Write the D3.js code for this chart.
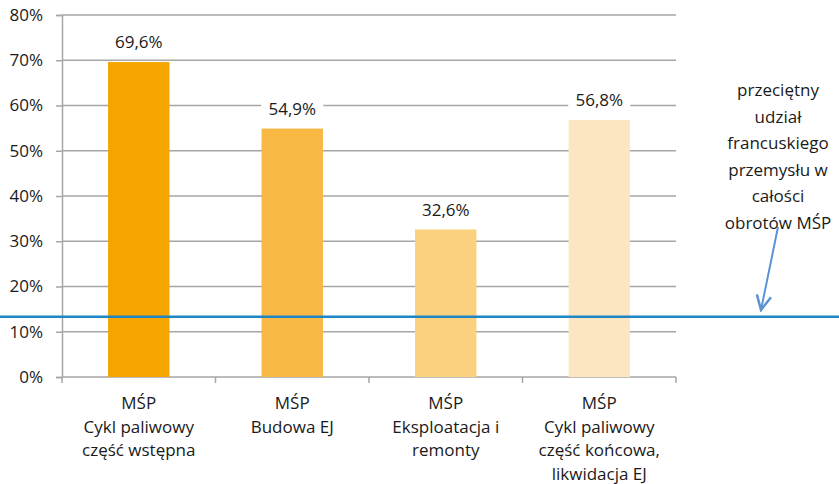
<!DOCTYPE html>
<html>
<head>
<meta charset="utf-8">
<script src="https://cdn.jsdelivr.net/npm/d3@7"></script>
<style>
  body { margin: 0; background: #fff; }
  text { font-family: "Open Sans", sans-serif; fill: #1a1a1a; }
</style>
</head>
<body>
<div class="canvas"></div>
<script>
// chart data
const categories = [
  ['MŚP', 'Cykl paliwowy', 'część wstępna'],
  ['MŚP', 'Budowa EJ'],
  ['MŚP', 'Eksploatacja i', 'remonty'],
  ['MŚP', 'Cykl paliwowy', 'część końcowa,', 'likwidacja EJ']
];
const values = [69.6, 54.9, 32.6, 56.8];
const barColors = ['#F5A500', '#F7B844', '#F9D17F', '#FCE6C1'];
const averageShare = 13.3;
const yTicks = [0, 10, 20, 30, 40, 50, 60, 70, 80];
const noteLines = ['przeciętny', 'udział', 'francuskiego', 'przemysłu w', 'całości', 'obrotów MŚP'];

const width = 839, height = 484;
const margin = { top: 15, right: 163, bottom: 107, left: 62 };
const graphWidth = width - margin.left - margin.right;
const graphHeight = height - margin.top - margin.bottom;
const fontSize = 17;

const svg = d3.select('.canvas').append('svg')
    .attr('width', width)
    .attr('height', height);

const graph = svg.append('g')
    .attr('transform', `translate(${margin.left}, ${margin.top})`);

const x = d3.scaleBand()
    .domain(d3.range(values.length))
    .range([0, graphWidth])
    .paddingInner(0.6)
    .paddingOuter(0.3);

const y = d3.scaleLinear()
    .domain([0, 80])
    .range([graphHeight, 0]);

// gridlines
graph.append('g')
    .selectAll('line')
    .data(yTicks.slice(1))
    .enter()
    .append('line')
    .attr('x1', 0)
    .attr('x2', graphWidth)
    .attr('y1', d => y(d))
    .attr('y2', d => y(d))
    .attr('stroke', '#a6a6a6')
    .attr('stroke-width', 1.5);

// y axis
const yAxis = d3.axisLeft(y).tickValues(yTicks).tickSize(6).tickFormat(d => d + '%');
const yG = graph.append('g').call(yAxis);
yG.select('.domain').attr('stroke', '#a6a6a6').attr('stroke-width', 1.5);
yG.selectAll('.tick line').attr('stroke', '#a6a6a6').attr('stroke-width', 1.5);
yG.selectAll('.tick text')
    .attr('font-size', fontSize)
    .attr('x', -19)
    .attr('font-family', '"Open Sans", sans-serif')
    .attr('fill', '#1a1a1a');

// x axis line + ticks at category borders
const bandEdges = d3.range(values.length + 1).map(i => i * graphWidth / values.length);
graph.append('line')
    .attr('x1', 0).attr('x2', graphWidth)
    .attr('y1', graphHeight).attr('y2', graphHeight)
    .attr('stroke', '#a6a6a6').attr('stroke-width', 1.5);
graph.append('g')
    .selectAll('line')
    .data(bandEdges)
    .enter()
    .append('line')
    .attr('x1', d => d).attr('x2', d => d)
    .attr('y1', graphHeight).attr('y2', graphHeight + 6)
    .attr('stroke', '#a6a6a6').attr('stroke-width', 1.5);

// bars
graph.selectAll('rect.bar')
    .data(values)
    .enter()
    .append('rect')
    .attr('class', 'bar')
    .attr('x', (d, i) => x(i))
    .attr('y', d => y(d))
    .attr('width', x.bandwidth())
    .attr('height', d => graphHeight - y(d))
    .attr('fill', (d, i) => barColors[i]);

// value labels with white box
const labels = graph.selectAll('g.vlabel')
    .data(values)
    .enter()
    .append('g')
    .attr('class', 'vlabel')
    .attr('transform', (d, i) => `translate(${x(i) + x.bandwidth() / 2}, ${y(d) - 20})`);
labels.append('rect')
    .attr('x', -31).attr('y', -12)
    .attr('width', 62).attr('height', 24)
    .attr('fill', '#fff');
labels.append('text')
    .attr('text-anchor', 'middle')
    .attr('dy', '0.36em')
    .attr('font-size', fontSize)
    .text(d => d.toFixed(1).replace('.', ',') + '%');

// category labels
graph.selectAll('text.cat')
    .data(categories)
    .enter()
    .append('text')
    .attr('class', 'cat')
    .attr('text-anchor', 'middle')
    .attr('font-size', fontSize)
    .attr('transform', (d, i) => `translate(${x(i) + x.bandwidth() / 2}, ${graphHeight + 32})`)
    .each(function(d) {
        d3.select(this).selectAll('tspan')
            .data(d)
            .enter()
            .append('tspan')
            .attr('x', 0)
            .attr('y', (t, j) => j * 23.6)
            .text(t => t);
    });

// average line
svg.append('line')
    .attr('x1', 0).attr('x2', width)
    .attr('y1', margin.top + y(averageShare)).attr('y2', margin.top + y(averageShare))
    .attr('stroke', '#1F86C6')
    .attr('stroke-width', 2.5);

// annotation
const note = svg.append('text')
    .attr('text-anchor', 'middle')
    .attr('font-size', fontSize)
    .attr('transform', 'translate(778, 96)');
note.selectAll('tspan')
    .data(noteLines)
    .enter()
    .append('tspan')
    .attr('x', 0)
    .attr('y', (t, j) => j * 26.5)
    .text(t => t);

// arrow
svg.append('defs').append('marker')
    .attr('id', 'arrowhead')
    .attr('viewBox', '0 0 10 10')
    .attr('refX', 9).attr('refY', 5)
    .attr('markerWidth', 9).attr('markerHeight', 9)
    .attr('orient', 'auto')
    .append('path')
    .attr('d', 'M1,1 L9,5 L1,9')
    .attr('fill', 'none')
    .attr('stroke', '#5B93D3')
    .attr('stroke-width', 1.4);

svg.append('line')
    .attr('x1', 778).attr('y1', 227)
    .attr('x2', 761).attr('y2', 310)
    .attr('stroke', '#5B93D3')
    .attr('stroke-width', 2)
    .attr('marker-end', 'url(#arrowhead)');
</script>
</body>
</html>
